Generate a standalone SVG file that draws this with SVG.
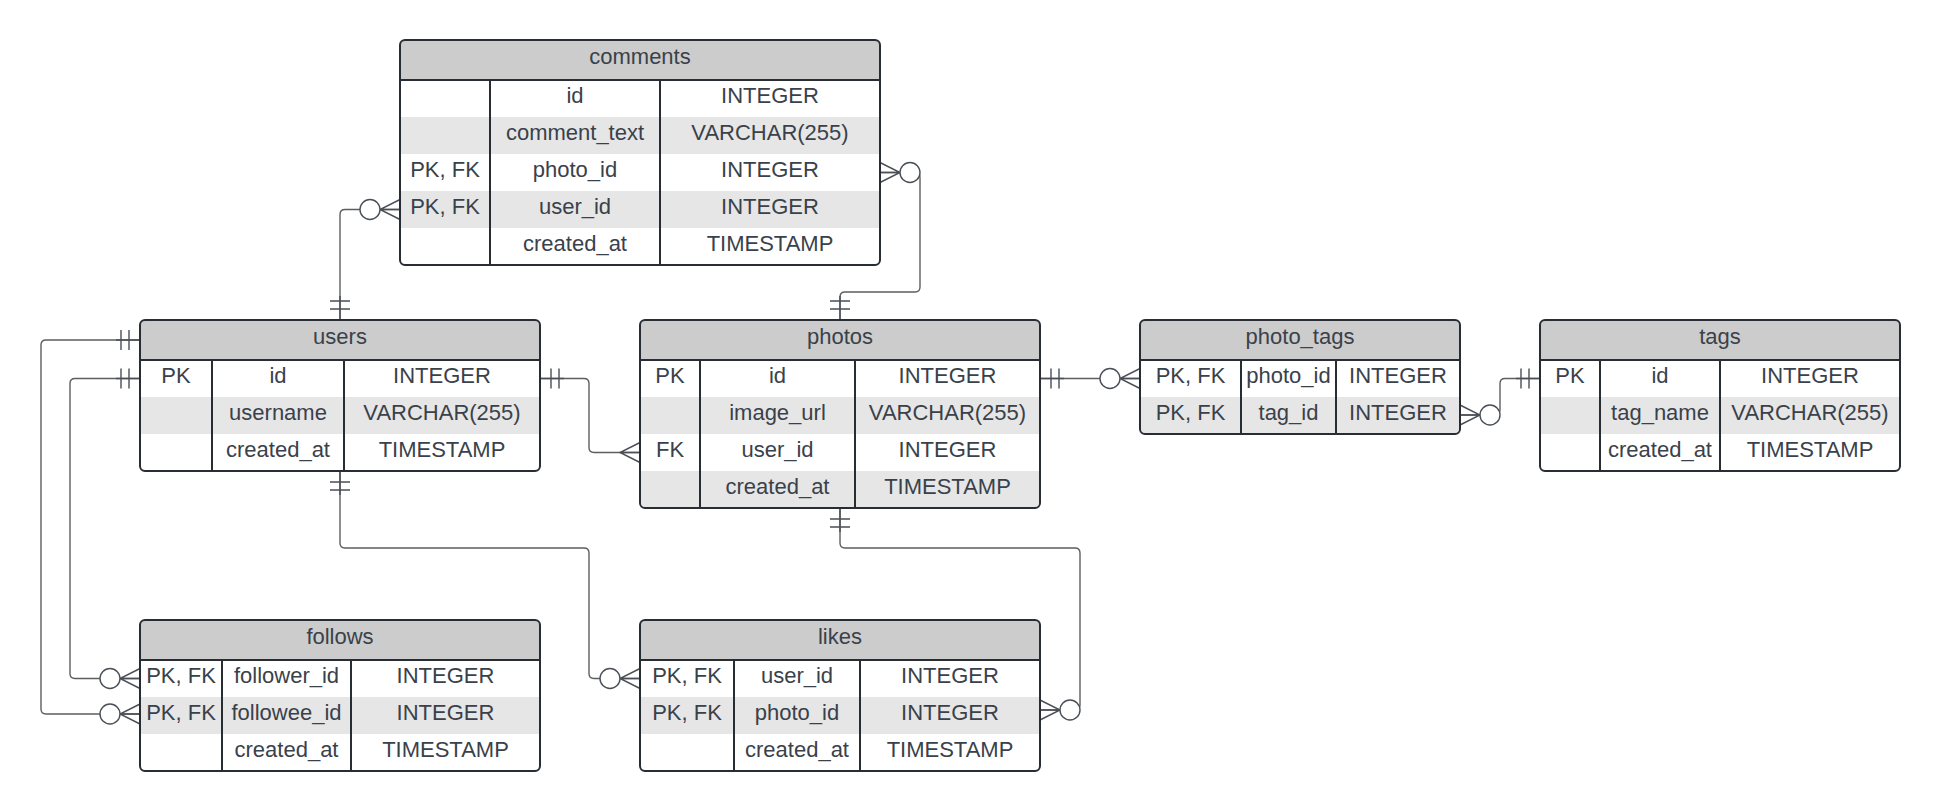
<svg xmlns="http://www.w3.org/2000/svg" xmlns:xlink="http://www.w3.org/1999/xlink" width="1940" height="811" viewBox="0 0 1940 811">
<style>
.box{fill:#ffffff;stroke:none}
.frame{fill:none;stroke:#282c33;stroke-width:2}
.hdr{fill:#cccccc}
.alt{fill:#e6e6e6}
.sep{stroke:#282c33;stroke-width:2}
.t{font-family:"Liberation Sans",Arial,sans-serif;font-size:22px;fill:#3a414a;text-anchor:middle}
.c{fill:none;stroke:#5e5e5e;stroke-width:1.4}
.m{fill:none;stroke:#4a4f57;stroke-width:1.4}
.o{fill:#ffffff;stroke:#4a4f57;stroke-width:1.4}
</style>
<defs>
<g id="one"><path class="m" d="M0 0H24M11 -10V10M19 -10V10"/></g>
<g id="many"><path class="m" d="M0 -10L20 0L0 10M0 0H20"/></g>
<g id="zeromany"><path class="m" d="M0 -10L20 0L0 10M0 0H20"/><circle class="o" cx="30" cy="0" r="10"/></g>
</defs>
<rect width="1940" height="811" fill="#ffffff"/>

<g id="connectors">
<path class="c" d="M400 209.5H345Q340 209.5 340 214.5V320"/>
<path class="c" d="M880 172.5H915Q920 172.5 920 177.5V287Q920 292 915 292H845Q840 292 840 297V320"/>
<path class="c" d="M540 378.5H584Q589 378.5 589 383.5V447.5Q589 452.5 594 452.5H640"/>
<path class="c" d="M140 340H46Q41 340 41 345V709Q41 714 46 714H140"/>
<path class="c" d="M140 378.5H75Q70 378.5 70 383.5V673.5Q70 678.5 75 678.5H140"/>
<path class="c" d="M340 471V543Q340 548 345 548H584Q589 548 589 553V673.5Q589 678.5 594 678.5H640"/>
<path class="c" d="M840 508V543Q840 548 845 548H1075Q1080 548 1080 553V705Q1080 710 1075 710H1040"/>
<path class="c" d="M1040 378.5H1140"/>
<path class="c" d="M1540 378.5H1505Q1500 378.5 1500 383.5V410Q1500 415 1495 415H1460"/>
<use xlink:href="#zeromany" transform="translate(400 209.5) rotate(180)"/>
<use xlink:href="#one" transform="translate(340 320) rotate(-90)"/>
<use xlink:href="#zeromany" transform="translate(880 172.5)"/>
<use xlink:href="#one" transform="translate(840 320) rotate(-90)"/>
<use xlink:href="#one" transform="translate(540 378.5)"/>
<use xlink:href="#many" transform="translate(640 452.5) rotate(180)"/>
<use xlink:href="#one" transform="translate(140 340) rotate(180)"/>
<use xlink:href="#zeromany" transform="translate(140 714) rotate(180)"/>
<use xlink:href="#one" transform="translate(140 378.5) rotate(180)"/>
<use xlink:href="#zeromany" transform="translate(140 678.5) rotate(180)"/>
<use xlink:href="#one" transform="translate(340 471) rotate(90)"/>
<use xlink:href="#zeromany" transform="translate(640 678.5) rotate(180)"/>
<use xlink:href="#one" transform="translate(840 508) rotate(90)"/>
<use xlink:href="#zeromany" transform="translate(1040 710)"/>
<use xlink:href="#one" transform="translate(1040 378.5)"/>
<use xlink:href="#zeromany" transform="translate(1140 378.5) rotate(180)"/>
<use xlink:href="#one" transform="translate(1540 378.5) rotate(180)"/>
<use xlink:href="#zeromany" transform="translate(1460 415)"/>
</g>

<g id="comments">
<rect class="box" x="400" y="40" width="480" height="225" rx="5"/>
<path class="hdr" d="M405 40H875Q880 40 880 45V80H400V45Q400 40 405 40Z"/>
<rect class="alt" x="401" y="117" width="478" height="37"/>
<rect class="alt" x="401" y="191" width="478" height="37"/>
<line class="sep" x1="400" y1="80" x2="880" y2="80"/>
<line class="sep" x1="490" y1="80" x2="490" y2="265"/>
<line class="sep" x1="660" y1="80" x2="660" y2="265"/>
<rect class="frame" x="400" y="40" width="480" height="225" rx="5"/>
<text class="t" x="640" y="64">comments</text>
<text class="t" x="575" y="102.5">id</text><text class="t" x="770" y="102.5">INTEGER</text>
<text class="t" x="575" y="139.5">comment_text</text><text class="t" x="770" y="139.5">VARCHAR(255)</text>
<text class="t" x="445" y="176.5">PK, FK</text><text class="t" x="575" y="176.5">photo_id</text><text class="t" x="770" y="176.5">INTEGER</text>
<text class="t" x="445" y="213.5">PK, FK</text><text class="t" x="575" y="213.5">user_id</text><text class="t" x="770" y="213.5">INTEGER</text>
<text class="t" x="575" y="250.5">created_at</text><text class="t" x="770" y="250.5">TIMESTAMP</text>
</g>

<g id="users">
<rect class="box" x="140" y="320" width="400" height="151" rx="5"/>
<path class="hdr" d="M145 320H535Q540 320 540 325V360H140V325Q140 320 145 320Z"/>
<rect class="alt" x="141" y="397" width="398" height="37"/>
<line class="sep" x1="140" y1="360" x2="540" y2="360"/>
<line class="sep" x1="212" y1="360" x2="212" y2="471"/>
<line class="sep" x1="344" y1="360" x2="344" y2="471"/>
<rect class="frame" x="140" y="320" width="400" height="151" rx="5"/>
<text class="t" x="340" y="344">users</text>
<text class="t" x="176" y="382.5">PK</text><text class="t" x="278" y="382.5">id</text><text class="t" x="442" y="382.5">INTEGER</text>
<text class="t" x="278" y="419.5">username</text><text class="t" x="442" y="419.5">VARCHAR(255)</text>
<text class="t" x="278" y="456.5">created_at</text><text class="t" x="442" y="456.5">TIMESTAMP</text>
</g>

<g id="photos">
<rect class="box" x="640" y="320" width="400" height="188" rx="5"/>
<path class="hdr" d="M645 320H1035Q1040 320 1040 325V360H640V325Q640 320 645 320Z"/>
<rect class="alt" x="641" y="397" width="398" height="37"/>
<path class="alt" d="M641 471H1039V502Q1039 507 1034 507H646Q641 507 641 502Z"/>
<line class="sep" x1="640" y1="360" x2="1040" y2="360"/>
<line class="sep" x1="700" y1="360" x2="700" y2="508"/>
<line class="sep" x1="855" y1="360" x2="855" y2="508"/>
<rect class="frame" x="640" y="320" width="400" height="188" rx="5"/>
<text class="t" x="840" y="344">photos</text>
<text class="t" x="670" y="382.5">PK</text><text class="t" x="777.5" y="382.5">id</text><text class="t" x="947.5" y="382.5">INTEGER</text>
<text class="t" x="777.5" y="419.5">image_url</text><text class="t" x="947.5" y="419.5">VARCHAR(255)</text>
<text class="t" x="670" y="456.5">FK</text><text class="t" x="777.5" y="456.5">user_id</text><text class="t" x="947.5" y="456.5">INTEGER</text>
<text class="t" x="777.5" y="493.5">created_at</text><text class="t" x="947.5" y="493.5">TIMESTAMP</text>
</g>

<g id="photo_tags">
<rect class="box" x="1140" y="320" width="320" height="114" rx="5"/>
<path class="hdr" d="M1145 320H1455Q1460 320 1460 325V360H1140V325Q1140 320 1145 320Z"/>
<path class="alt" d="M1141 397H1459V428Q1459 433 1454 433H1146Q1141 433 1141 428Z"/>
<line class="sep" x1="1140" y1="360" x2="1460" y2="360"/>
<line class="sep" x1="1241" y1="360" x2="1241" y2="434"/>
<line class="sep" x1="1336" y1="360" x2="1336" y2="434"/>
<rect class="frame" x="1140" y="320" width="320" height="114" rx="5"/>
<text class="t" x="1300" y="344">photo_tags</text>
<text class="t" x="1190.5" y="382.5">PK, FK</text><text class="t" x="1288.5" y="382.5">photo_id</text><text class="t" x="1398" y="382.5">INTEGER</text>
<text class="t" x="1190.5" y="419.5">PK, FK</text><text class="t" x="1288.5" y="419.5">tag_id</text><text class="t" x="1398" y="419.5">INTEGER</text>
</g>

<g id="tags">
<rect class="box" x="1540" y="320" width="360" height="151" rx="5"/>
<path class="hdr" d="M1545 320H1895Q1900 320 1900 325V360H1540V325Q1540 320 1545 320Z"/>
<rect class="alt" x="1541" y="397" width="358" height="37"/>
<line class="sep" x1="1540" y1="360" x2="1900" y2="360"/>
<line class="sep" x1="1600" y1="360" x2="1600" y2="471"/>
<line class="sep" x1="1720" y1="360" x2="1720" y2="471"/>
<rect class="frame" x="1540" y="320" width="360" height="151" rx="5"/>
<text class="t" x="1720" y="344">tags</text>
<text class="t" x="1570" y="382.5">PK</text><text class="t" x="1660" y="382.5">id</text><text class="t" x="1810" y="382.5">INTEGER</text>
<text class="t" x="1660" y="419.5">tag_name</text><text class="t" x="1810" y="419.5">VARCHAR(255)</text>
<text class="t" x="1660" y="456.5">created_at</text><text class="t" x="1810" y="456.5">TIMESTAMP</text>
</g>

<g id="follows">
<rect class="box" x="140" y="620" width="400" height="151" rx="5"/>
<path class="hdr" d="M145 620H535Q540 620 540 625V660H140V625Q140 620 145 620Z"/>
<rect class="alt" x="141" y="697" width="398" height="37"/>
<line class="sep" x1="140" y1="660" x2="540" y2="660"/>
<line class="sep" x1="222" y1="660" x2="222" y2="771"/>
<line class="sep" x1="351" y1="660" x2="351" y2="771"/>
<rect class="frame" x="140" y="620" width="400" height="151" rx="5"/>
<text class="t" x="340" y="644">follows</text>
<text class="t" x="181" y="682.5">PK, FK</text><text class="t" x="286.5" y="682.5">follower_id</text><text class="t" x="445.5" y="682.5">INTEGER</text>
<text class="t" x="181" y="719.5">PK, FK</text><text class="t" x="286.5" y="719.5">followee_id</text><text class="t" x="445.5" y="719.5">INTEGER</text>
<text class="t" x="286.5" y="756.5">created_at</text><text class="t" x="445.5" y="756.5">TIMESTAMP</text>
</g>

<g id="likes">
<rect class="box" x="640" y="620" width="400" height="151" rx="5"/>
<path class="hdr" d="M645 620H1035Q1040 620 1040 625V660H640V625Q640 620 645 620Z"/>
<rect class="alt" x="641" y="697" width="398" height="37"/>
<line class="sep" x1="640" y1="660" x2="1040" y2="660"/>
<line class="sep" x1="734" y1="660" x2="734" y2="771"/>
<line class="sep" x1="860" y1="660" x2="860" y2="771"/>
<rect class="frame" x="640" y="620" width="400" height="151" rx="5"/>
<text class="t" x="840" y="644">likes</text>
<text class="t" x="687" y="682.5">PK, FK</text><text class="t" x="797" y="682.5">user_id</text><text class="t" x="950" y="682.5">INTEGER</text>
<text class="t" x="687" y="719.5">PK, FK</text><text class="t" x="797" y="719.5">photo_id</text><text class="t" x="950" y="719.5">INTEGER</text>
<text class="t" x="797" y="756.5">created_at</text><text class="t" x="950" y="756.5">TIMESTAMP</text>
</g>
</svg>
